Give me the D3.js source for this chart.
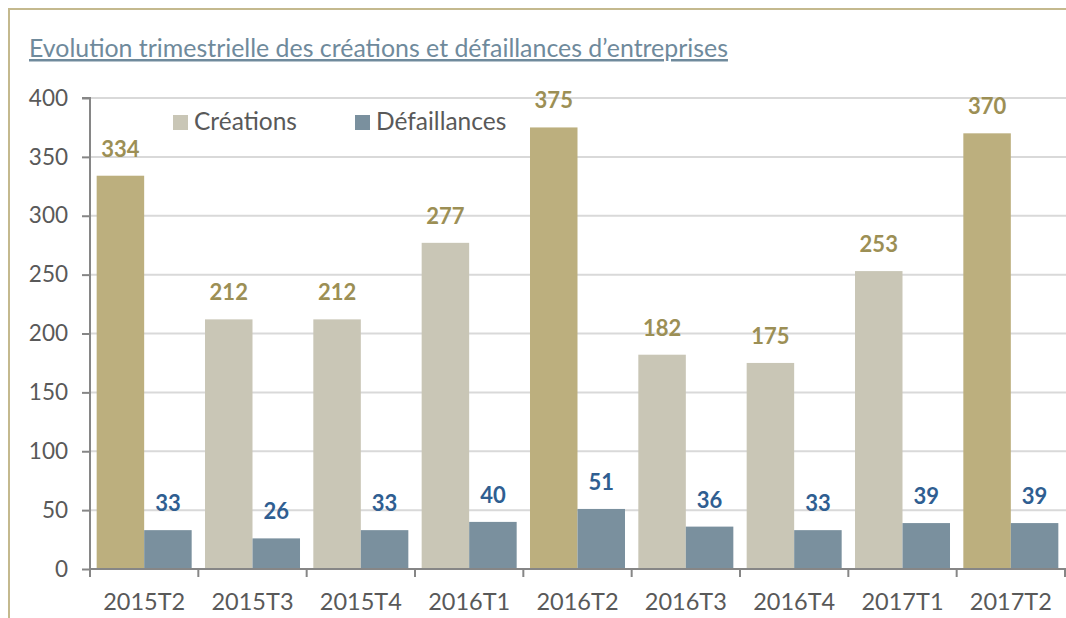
<!DOCTYPE html>
<html>
<head>
<meta charset="utf-8">
<script src="https://cdn.jsdelivr.net/npm/d3@7"></script>
<style>
  body { margin: 0; background: #fff; }
  svg { display: block; font-family: Lato, "Open Sans", sans-serif; }
</style>
</head>
<body>
<svg id="visuals" width="1066" height="618"></svg>
<script>
const periods = ["2015T2", "2015T3", "2015T4", "2016T1", "2016T2", "2016T3", "2016T4", "2017T1", "2017T2"];
const creations = [334, 212, 212, 277, 375, 182, 175, 253, 370];
const defaillances = [33, 26, 33, 40, 51, 36, 33, 39, 39];
const highlighted = ["2015T2", "2016T2", "2017T2"];
const yTicks = [0, 50, 100, 150, 200, 250, 300, 350, 400];

const colors = {
  frame: "#c4b98e",
  creation: "#c9c6b6",
  creationHi: "#bcaf7e",
  defaillance: "#7a909e",
  creationLabel: "#9c8f55",
  defaillanceLabel: "#2f5e91",
  grid: "#d9d9d9",
  axis: "#868686",
  text: "#595959",
  title: "#6f8a9c",
};

const svg = d3.select("#visuals");
const plot = { left: 90, right: 1065, top: 98, bottom: 569 };

// frame
svg.append("path")
  .attr("d", `M9,618 V9 H1066`)
  .attr("fill", "none")
  .attr("stroke", colors.frame)
  .attr("stroke-width", 2);

// title
svg.append("text")
  .attr("x", 29)
  .attr("y", 57)
  .attr("fill", colors.title)
  .attr("font-size", 24.9)
  .attr("text-decoration", "underline")
  .text("Evolution trimestrielle des créations et défaillances d’entreprises");

const x = d3.scaleBand().domain(periods).range([plot.left, plot.right]).paddingInner(0.123).paddingOuter(0.0615);
const xStep = (plot.right - plot.left) / periods.length;
const sub = d3.scaleBand().domain(["c", "d"]).range([0, x.bandwidth()]);
const y = d3.scaleLinear().domain([0, 400]).range([plot.bottom, plot.top]);

// grid
svg.append("g")
  .selectAll("line")
  .data(yTicks.filter((d) => d > 0))
  .join("line")
  .attr("x1", plot.left)
  .attr("x2", 1066)
  .attr("y1", (d) => y(d))
  .attr("y2", (d) => y(d))
  .attr("stroke", colors.grid)
  .attr("stroke-width", 2);

// bars
const groups = svg.append("g")
  .selectAll("g")
  .data(periods)
  .join("g")
  .attr("transform", (d) => `translate(${x(d)},0)`);

groups.append("rect")
  .attr("x", sub("c"))
  .attr("width", sub.bandwidth())
  .attr("y", (d, i) => y(creations[i]))
  .attr("height", (d, i) => y(0) - y(creations[i]))
  .attr("fill", (d) => (highlighted.includes(d) ? colors.creationHi : colors.creation));

groups.append("rect")
  .attr("x", sub("d"))
  .attr("width", sub.bandwidth())
  .attr("y", (d, i) => y(defaillances[i]))
  .attr("height", (d, i) => y(0) - y(defaillances[i]))
  .attr("fill", colors.defaillance);

groups.append("text")
  .attr("x", sub("c") + sub.bandwidth() / 2)
  .attr("y", (d, i) => y(creations[i]) - 19)
  .attr("text-anchor", "middle")
  .attr("font-size", 22)
  .attr("font-weight", "bold")
  .attr("fill", colors.creationLabel)
  .text((d, i) => creations[i]);

groups.append("text")
  .attr("x", sub("d") + sub.bandwidth() / 2)
  .attr("y", (d, i) => y(defaillances[i]) - 19)
  .attr("text-anchor", "middle")
  .attr("font-size", 22)
  .attr("font-weight", "bold")
  .attr("fill", colors.defaillanceLabel)
  .text((d, i) => defaillances[i]);

// y axis
const yAxis = svg.append("g")
  .attr("transform", `translate(${plot.left},0)`)
  .call(d3.axisLeft(y).tickValues(yTicks).tickSize(8).tickPadding(14));
yAxis.select(".domain").attr("stroke", colors.axis).attr("stroke-width", 2).attr("d", `M-8,${plot.top}H0V${plot.bottom}`);
yAxis.selectAll(".tick line").attr("stroke", colors.axis).attr("stroke-width", 2);
yAxis.selectAll(".tick text").attr("fill", colors.text).attr("font-size", 22.5).attr("font-family", "Lato, sans-serif");

// x axis
const xAxis = svg.append("g")
  .attr("transform", `translate(0,${plot.bottom})`)
  .call(d3.axisBottom(x).tickSize(0).tickPadding(24));
xAxis.select(".domain").attr("stroke", colors.axis).attr("stroke-width", 2).attr("d", `M${plot.left},0H1066`);
xAxis.selectAll(".tick text").attr("fill", colors.text).attr("font-size", 23.5).attr("font-family", "Lato, sans-serif").attr("dy", "0.71em");
xAxis.append("g")
  .selectAll("line")
  .data(d3.range(periods.length + 1))
  .join("line")
  .attr("x1", (i) => plot.left + i * xStep)
  .attr("x2", (i) => plot.left + i * xStep)
  .attr("y1", 0)
  .attr("y2", 8)
  .attr("stroke", colors.axis)
  .attr("stroke-width", 2);

// legend
const legendItems = [
  { label: "Créations", color: colors.creation, x: 173 },
  { label: "Défaillances", color: colors.defaillance, x: 355 },
];
const legend = svg.append("g")
  .selectAll("g")
  .data(legendItems)
  .join("g")
  .attr("transform", (d) => `translate(${d.x},115)`);
legend.append("rect").attr("width", 15).attr("height", 15).attr("fill", (d) => d.color);
legend.append("text")
  .attr("x", 21)
  .attr("y", 15)
  .attr("font-size", 24.5)
  .attr("fill", colors.text)
  .text((d) => d.label);
</script>
</body>
</html>
